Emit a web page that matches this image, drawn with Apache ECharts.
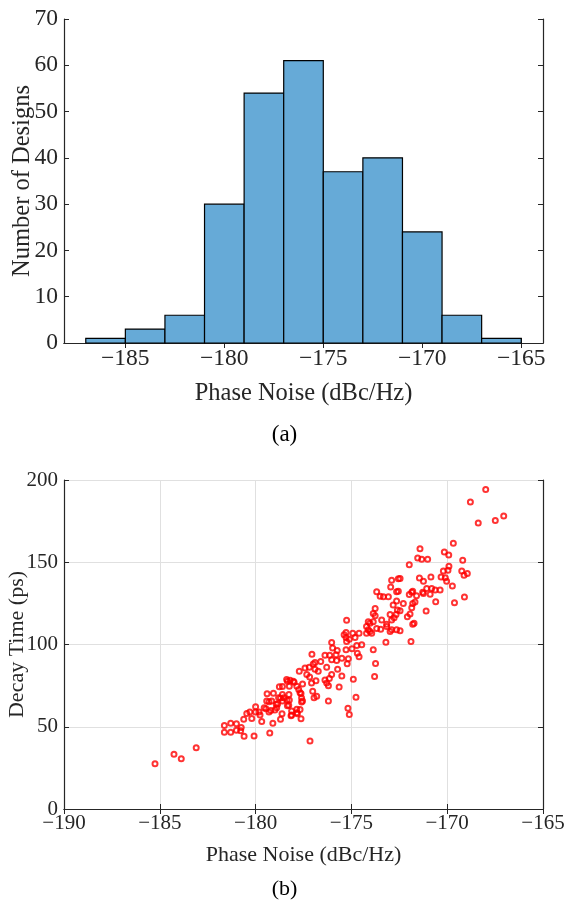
<!DOCTYPE html>
<html><head><meta charset="utf-8">
<script src="https://cdn.jsdelivr.net/npm/echarts@6/dist/echarts.min.js"></script>
<style>html,body{margin:0;padding:0;background:#fff}#c{width:569px;height:902px}</style>
</head><body><div id="c"></div>
<script>
// Histogram (a)
const binEdges = [-187,-185,-183,-181,-179,-177,-175,-173,-171,-169,-167,-165];
const counts = [1,3,6,30,54,61,37,40,24,6,1];
const histXTicks = [-185,-180,-175,-170,-165];

// Scatter (b)
const phaseNoise = [
-185.25,-184.26,-183.88,-183.1,
-181.63,-181.63,-181.3,-181.3,-181.0,-181.0,-180.75,-180.78,-180.6,-180.08,-180.62,-180.46,-180.2,-180.3,-180.0,-180.0,-179.82,-179.68,-179.77,-179.46,-179.3,-179.26,-179.1,-179.4,-179.07,-179.3,-178.92,-178.99,-178.8,-178.76,-178.7,
-177.16,-178.62,-178.15,-177.63,-177.82,-177.85,-178.34,-178.36,-178.6,-178.85,-179.21,-179.55,-179.42,-178.6,-178.52,-178.26,-178.24,-178.27,-178.6,-178.34,-178.2,-177.99,-177.85,-177.75,-177.63,-177.6,-177.6,-178.12,-177.72,-177.42,-177.18,-177.06,-176.99,-176.81,-176.85,-176.73,-176.6,-176.38,-176.29,-176.2,-176.2,-176.38,
-175.25,-175.28,-175.28,-175.38,-175.11,-174.93,-174.6,-174.81,-174.46,-174.72,-174.97,-174.69,-174.6,-175.25,-175.28,-175.22,-175.5,-175.16,-176.03,-175.98,-175.74,-175.8,-176.13,-176.03,-175.77,-176.9,-177.2,-177.33,-176.9,-175.72,-176.03,-176.15,-176.29,-175.5,-175.64,-174.9,-174.76,-175.18,-175.11,-177.08,-177.55,-178.03,-178.38,-178.24,-177.68,-177.55,-177.68,-177.85,-178.12,-178.9,-178.7,-179.16,-176.95,-177.02,
-172.9,-172.95,-172.55,-172.64,-173.68,-173.5,-173.07,-172.64,-172.82,-172.98,-173.76,-173.76,-173.42,-172.9,-173.86,-174.12,-174.21,-173.68,-174.03,-174.21,-173.16,-172.9,-173.2,-173.86,-173.74,-173.79,
-173.33,-172.29,-172.6,-172.67,-172.77,-173.16,-173.86,-174.03,-174.12,-173.94,-173.47,-172.98,-172.64,-172.46,-172.08,-171.94,-171.73,-171.85,-171.8,-171.98,-171.85,-171.6,-171.28,-171.07,-170.81,-170.6,-171.1,-171.8,-171.89,
-167.99,-168.79,-168.38,-167.49,-167.05,-169.68,-171.42,-170.15,-169.92,-171.54,-171.33,-171.02,-171.98,-169.19,-169.91,-169.96,-170.2,-169.24,-168.95,-169.12,-170.32,-170.1,-170.85,-171.45,-171.24,-172.46,-170.03,-169.73,-170.63,-170.37,-171.24,-170.89,-171.8,-172.55,-169.1,-169.62,-171.68,-172.46
];
const decayTime = [
27.5,33.3,30.5,37.3,
50.8,46.6,52.2,46.6,51.8,47.8,49.6,47.6,44.2,44.4,54.6,58.0,55,58.9,62.2,59,58.9,53.2,57.2,61,59,46.2,52.2,70,70.3,65.2,63.7,60.2,67.7,74.3,54.6,
41.4,57.9,56.7,54.9,57.9,60.7,62.7,66.2,65.6,63.9,59.9,61.5,65.6,69.6,67.6,69.6,66.3,63,74.4,77.6,78.2,77,74.6,72.6,70.2,67.5,65.1,59.5,83.7,85.7,80.2,94.1,88.1,68.6,78,83.7,89.7,93.4,86.1,75,65.6,78.4,
114.7,107.3,104.2,105.9,103.2,106.8,106.8,104.2,99.8,99.4,97.4,94.7,92.5,101.8,96.8,88.3,91.7,91.4,101.2,97.8,96.4,93.8,93.4,90.8,90.2,89.1,86.1,81.7,85,85,81.7,79.3,76.6,80.8,74.2,78.9,68,61.3,57.5,76.6,76,77.6,78.7,74.6,70.6,65.6,60.5,58.5,57.1,61.5,67.5,65.6,67.6,71.6,
139.1,135,140,132,132,129.4,129,126.4,124,118.3,121.9,117.5,114.9,114.9,113.9,113.9,110.9,109.8,107.9,106.8,110.9,108.9,101.4,96.8,88.5,80.5,
129,125,121,118.3,116.3,112.3,118.9,112.9,108.9,106.8,109.2,107.9,108.9,108.3,116.9,118.5,112.9,122.4,125,130.4,131.7,129.6,131.7,134,134,126,120.4,112.3,101.8,
194.3,186.6,173.9,175.4,178.1,161.5,158.2,156.2,154.4,152.6,151.8,151.8,148.5,151.2,147.6,145.1,144.7,144.7,143.1,142.1,141.1,140.6,141.1,140.5,138.5,140.1,138.5,135.6,133.1,133.1,131,130.6,132.3,132.3,128.9,125.4,125.8,120.5
];

const FONT = 'Liberation Serif';
const TXT = '#262626';
const fmt = v => (v < 0 ? '\u2212' + Math.abs(v) : String(v));

const histData = counts.map((c, i) => [binEdges[i], binEdges[i + 1], c]);
const scatterData = phaseNoise.map((x, i) => [x, decayTime[i]]);

const axLine = { show: true, lineStyle: { color: TXT, width: 1.2 } };
const tickIn = { show: true, inside: true, length: 5, lineStyle: { color: TXT, width: 1 } };

const chart = echarts.init(document.getElementById('c'), null, { renderer: 'canvas' });
chart.setOption({
  animation: false,
  backgroundColor: '#fff',
  textStyle: { fontFamily: FONT },
  title: [
    { text: '(a)', left: 'center', top: 418, textStyle: { fontFamily: FONT, fontSize: 23, fontWeight: 'normal', color: '#000' } },
    { text: '(b)', left: 'center', top: 873, textStyle: { fontFamily: FONT, fontSize: 22, fontWeight: 'normal', color: '#000' } }
  ],
  grid: [
    { left: 64, right: 26, top: 19, height: 324, containLabel: false, outerBoundsMode: 'none' },
    { left: 64, right: 26, top: 480, height: 329, containLabel: false, outerBoundsMode: 'none' }
  ],
  xAxis: [
    { type: 'value', gridIndex: 0, min: -188.1, max: -163.9,
      name: 'Phase Noise (dBc/Hz)', nameLocation: 'middle', nameGap: 38, nameMoveOverlap: false,
      nameTextStyle: { fontFamily: FONT, fontSize: 24.5, color: TXT },
      axisLine: axLine, axisTick: Object.assign({}, tickIn, { customValues: histXTicks }),
      axisLabel: { customValues: histXTicks, formatter: fmt, fontFamily: FONT, fontSize: 23.5, color: TXT, margin: 4 },
      splitLine: { show: false } },
    { type: 'value', gridIndex: 0, position: 'top', min: -188.1, max: -163.9,
      axisLine: axLine, axisTick: Object.assign({}, tickIn, { customValues: histXTicks }),
      axisLabel: { show: false, customValues: histXTicks }, splitLine: { show: false } },
    { type: 'value', gridIndex: 1, min: -190, max: -165, interval: 5,
      name: 'Phase Noise (dBc/Hz)', nameLocation: 'middle', nameGap: 35, nameMoveOverlap: false,
      nameTextStyle: { fontFamily: FONT, fontSize: 22, color: TXT },
      axisLine: axLine, axisTick: tickIn,
      axisLabel: { formatter: fmt, fontFamily: FONT, fontSize: 21, color: TXT, margin: 4 },
      splitLine: { show: true, lineStyle: { color: '#e0e0e0', width: 1 } } },
    { type: 'value', gridIndex: 1, position: 'top', min: -190, max: -165, interval: 5,
      axisLine: axLine, axisTick: tickIn, axisLabel: { show: false }, splitLine: { show: false } }
  ],
  yAxis: [
    { type: 'value', gridIndex: 0, min: 0, max: 70, interval: 10,
      name: 'Number of Designs', nameLocation: 'middle', nameGap: 29, nameMoveOverlap: false,
      nameTextStyle: { fontFamily: FONT, fontSize: 24.5, color: TXT },
      axisLine: axLine, axisTick: tickIn,
      axisLabel: { fontFamily: FONT, fontSize: 23.5, color: TXT, margin: 6 },
      splitLine: { show: false } },
    { type: 'value', gridIndex: 0, position: 'right', min: 0, max: 70, interval: 10,
      axisLine: axLine, axisTick: tickIn, axisLabel: { show: false }, splitLine: { show: false } },
    { type: 'value', gridIndex: 1, min: 0, max: 200, interval: 50,
      name: 'Decay Time (ps)', nameLocation: 'middle', nameGap: 36, nameMoveOverlap: false,
      nameTextStyle: { fontFamily: FONT, fontSize: 22, color: TXT },
      axisLine: axLine, axisTick: tickIn,
      axisLabel: { fontFamily: FONT, fontSize: 21, color: TXT, margin: 6 },
      splitLine: { show: true, lineStyle: { color: '#e0e0e0', width: 1 } } },
    { type: 'value', gridIndex: 1, position: 'right', min: 0, max: 200, interval: 50,
      axisLine: axLine, axisTick: tickIn, axisLabel: { show: false }, splitLine: { show: false } }
  ],
  series: [
    { type: 'custom', xAxisIndex: 0, yAxisIndex: 0, data: histData,
      encode: { x: [0, 1], y: 2 },
      renderItem: function (params, api) {
        const p0 = api.coord([api.value(0), api.value(2)]);
        const p1 = api.coord([api.value(1), 0]);
        return { type: 'rect',
          shape: { x: p0[0], y: p0[1], width: p1[0] - p0[0], height: p1[1] - p0[1] },
          style: { fill: '#66aad7', stroke: '#000', lineWidth: 1.2 } };
      } },
    { type: 'scatter', xAxisIndex: 2, yAxisIndex: 2, data: scatterData,
      symbol: 'circle', symbolSize: 5, z: 5,
      itemStyle: { color: 'rgba(255,255,255,0)', borderColor: '#ff0000', borderWidth: 2 } }
  ]
});
</script>
</body></html>
